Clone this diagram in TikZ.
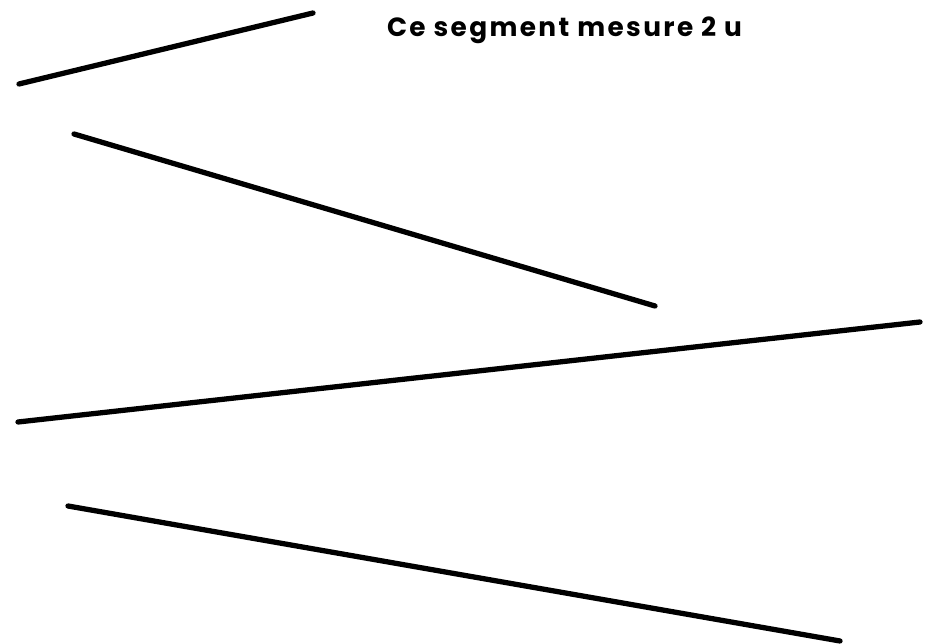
\documentclass[tikz,border=0pt]{standalone}
\usepackage{fontspec}
\setmainfont{Poppins}
\usetikzlibrary{positioning}
\tikzset{seg/.style={line width=3pt, line cap=round, black}}

\begin{document}
\begin{tikzpicture}[x=0.02cm, y=-0.02cm]

	\useasboundingbox (0,0) rectangle (930,644);

	% extremites des segments
	\coordinate (a1) at (19,84);   \coordinate (b1) at (313,13);
	\coordinate (a2) at (74,134);  \coordinate (b2) at (655,306);
	\coordinate (a3) at (18,422);  \coordinate (b3) at (920,322);
	\coordinate (a4) at (68,506);  \coordinate (b4) at (840,641);

	\draw[seg] (a1) -- (b1);
	\draw[seg] (a2) -- (b2);
	\draw[seg] (a3) -- (b3);
	\draw[seg] (a4) -- (b4);

	\node (titre) at (564.5,30) {\fontsize{15}{18}\selectfont\addfontfeature{LetterSpace=9}\bfseries Ce segment mesure 2 u};

\end{tikzpicture}
\end{document}
